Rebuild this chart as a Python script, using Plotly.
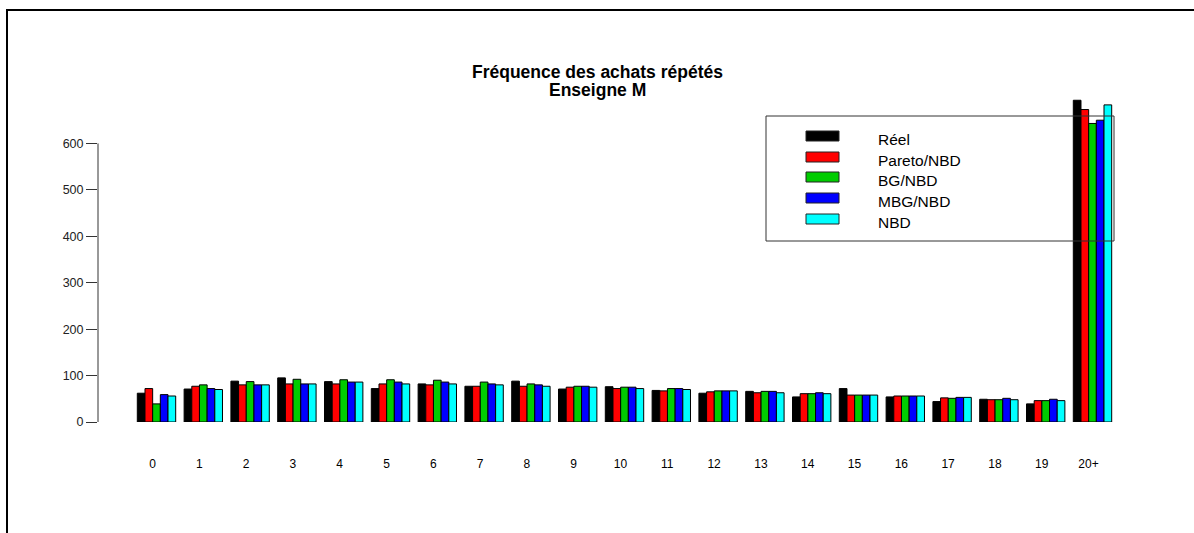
import plotly.graph_objects as go

categories = [str(i) for i in range(20)] + ["20+"]
series_names = ["Réel", "Pareto/NBD", "BG/NBD", "MBG/NBD", "NBD"]
series_colors = ["#000000", "#FF0000", "#00CC00", "#0000FF", "#00FFFF"]

reel = [62, 71, 88, 95, 87, 72, 82, 77, 88, 71, 76, 68, 62, 66, 54, 72, 54, 44, 49, 39, 693]
pareto_nbd = [72, 77, 80, 82, 82, 82, 80, 77, 77, 75, 72, 67, 65, 63, 61, 58, 56, 52, 48, 46, 673]
bg_nbd = [39, 80, 87, 92, 91, 91, 90, 86, 82, 77, 75, 72, 67, 66, 61, 58, 56, 51, 48, 46, 643]
mbg_nbd = [59, 72, 80, 82, 86, 86, 86, 82, 80, 77, 75, 72, 67, 66, 63, 58, 56, 53, 51, 49, 650]
nbd = [56, 70, 80, 82, 86, 82, 82, 80, 77, 75, 72, 70, 67, 63, 61, 58, 56, 53, 48, 46, 683]
series_values = [reel, pareto_nbd, bg_nbd, mbg_nbd, nbd]

y_ticks = [0, 100, 200, 300, 400, 500, 600]

W, H = 1194, 533
ML, MR, MT, MB = 98, 43, 97, 111
PW, PH = W - ML - MR, H - MT - MB


def px_x(p):
    return (p - ML) / PW


def px_y(p):
    return (H - MB - p) / PH


fig = go.Figure()
for name, color, vals in zip(series_names, series_colors, series_values):
    fig.add_trace(go.Bar(
        x=categories, y=vals, name=name,
        marker=dict(color=color, line=dict(color="#000000", width=1)),
        showlegend=False,
    ))

shapes = []
# outer frame
shapes.append(dict(type="rect", xref="paper", yref="paper",
                   x0=px_x(7), x1=px_x(1210), y0=px_y(10), y1=px_y(550),
                   line=dict(color="#000000", width=2), fillcolor="rgba(0,0,0,0)"))
# y axis line from 0 to 600
shapes.append(dict(type="line", xref="paper", yref="y", x0=0, x1=0,
                   y0=y_ticks[0], y1=y_ticks[-1], line=dict(color="#333333", width=1)))
# legend box
shapes.append(dict(type="rect", xref="paper", yref="paper",
                   x0=px_x(766), x1=px_x(1114), y0=px_y(116), y1=px_y(241),
                   line=dict(color="#333333", width=1), fillcolor="rgba(0,0,0,0)"))

annotations = []
row_centers = [136, 157, 177, 198, 219]
for name, color, yc in zip(series_names, series_colors, row_centers):
    shapes.append(dict(type="rect", xref="paper", yref="paper",
                       x0=px_x(806), x1=px_x(839), y0=px_y(yc + 5), y1=px_y(yc - 5),
                       line=dict(color="#222222", width=1), fillcolor=color))
    annotations.append(dict(xref="paper", yref="paper", x=px_x(876), y=px_y(yc + 3.5),
                            xanchor="left", yanchor="middle", showarrow=False, text=name,
                            font=dict(family="Liberation Sans", size=15.5, color="#000000")))

annotations.append(dict(xref="paper", yref="paper", x=px_x(597), y=px_y(72),
                        xanchor="center", yanchor="middle", showarrow=False,
                        text="<b>Fréquence des achats répétés</b>",
                        font=dict(family="Liberation Sans", size=17.5, color="#000000")))
annotations.append(dict(xref="paper", yref="paper", x=px_x(597), y=px_y(90),
                        xanchor="center", yanchor="middle", showarrow=False,
                        text="<b>Enseigne M</b>",
                        font=dict(family="Liberation Sans", size=17.5, color="#000000")))

fig.update_layout(
    width=W, height=H,
    margin=dict(l=ML, r=MR, t=MT, b=MB, pad=0),
    paper_bgcolor="#FFFFFF", plot_bgcolor="#FFFFFF",
    barmode="group", bargap=0.18, bargroupgap=0,
    shapes=shapes, annotations=annotations,
    showlegend=False,
    font=dict(family="Liberation Sans", size=12, color="#000000"),
    xaxis=dict(type="category", range=[-1.25, 21.25], showgrid=False, zeroline=False,
               showline=False, ticks="outside", ticklen=31, tickcolor="rgba(0,0,0,0)",
               ticklabelshift=-4,
               tickfont=dict(size=12, color="#000000")),
    yaxis=dict(range=[0, 700], tickvals=y_ticks, showgrid=False, zeroline=False,
               showline=False, ticks="outside", ticklen=11, tickcolor="#333333",
               tickwidth=1, tickfont=dict(size=12.5, color="#222222")),
)

fig.write_html("out.html")
